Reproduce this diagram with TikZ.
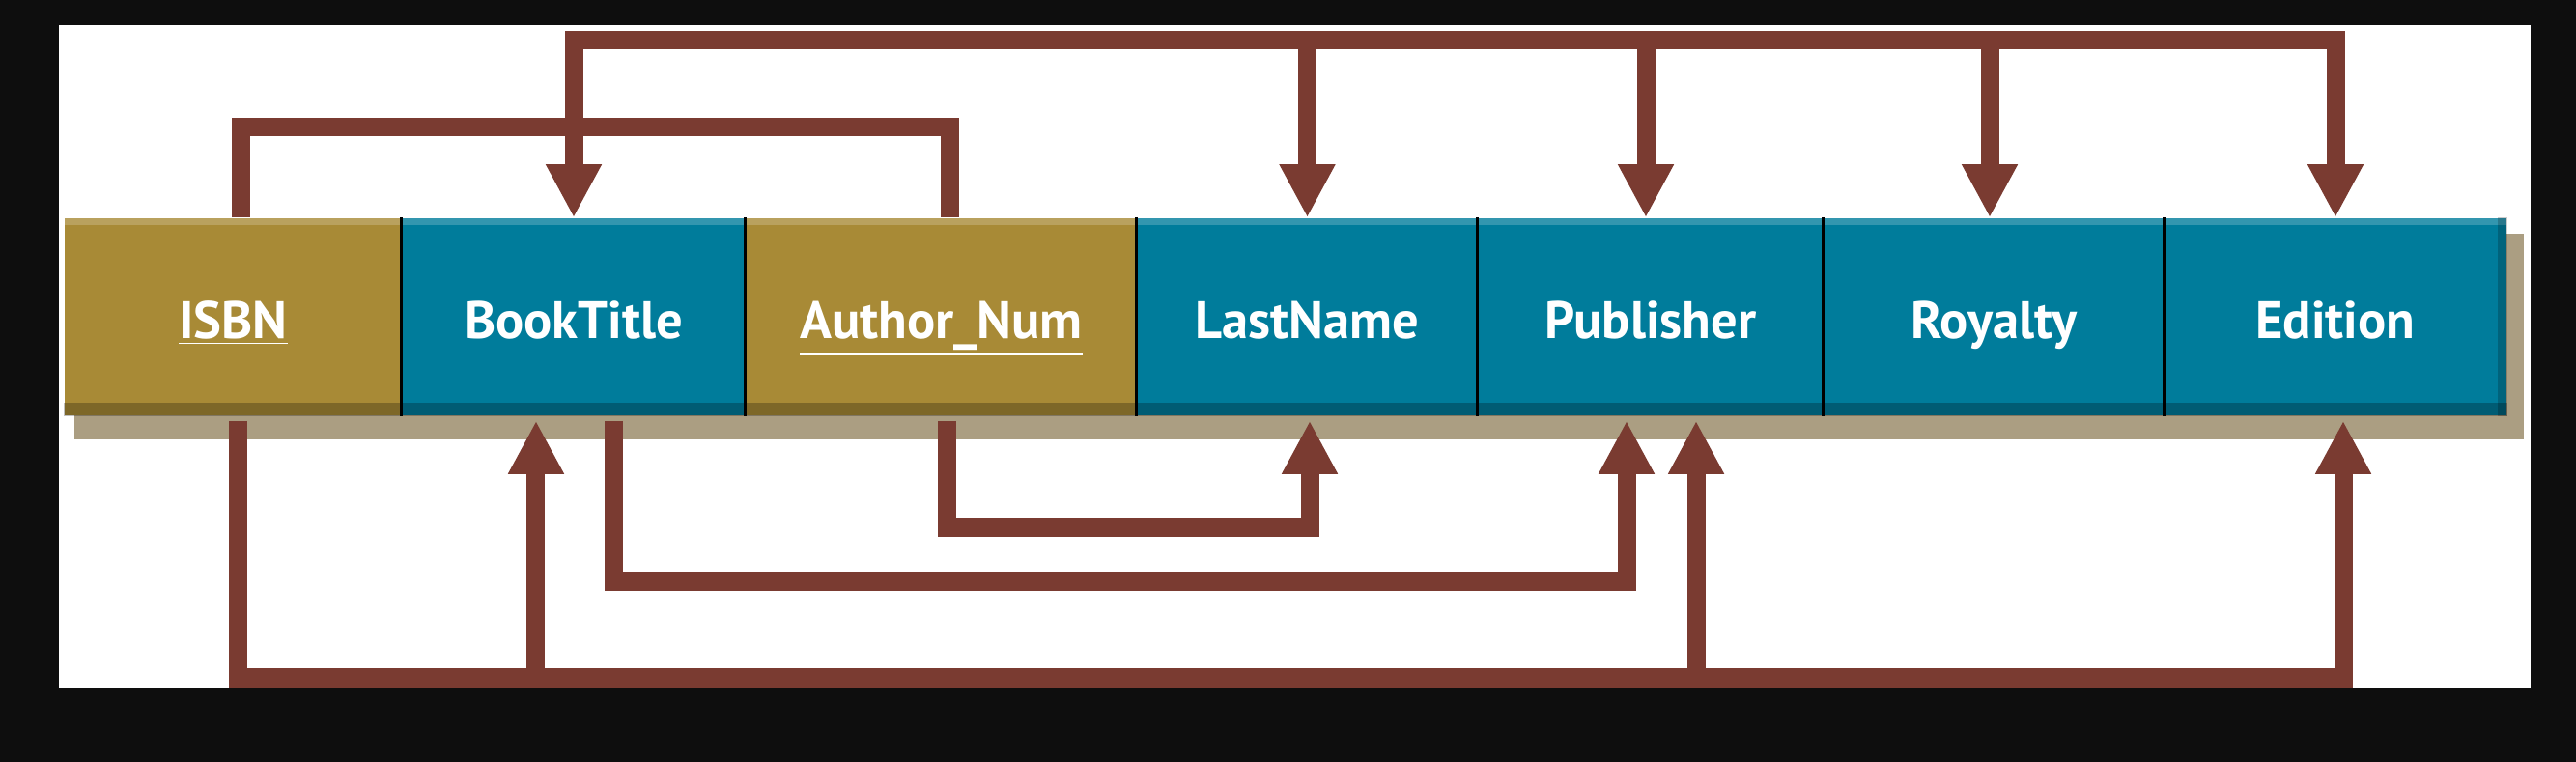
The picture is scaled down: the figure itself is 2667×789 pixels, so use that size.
\documentclass[tikz,border=0pt]{standalone}
\usepackage{fontspec}
\setmainfont{PT Sans}
\usetikzlibrary{arrows.meta}
\definecolor{keygold}{HTML}{A88A36}
\definecolor{fieldblue}{HTML}{007C9B}
\definecolor{depbrown}{HTML}{7A3B31}
\definecolor{shadowtan}{HTML}{AB9E82}
\definecolor{frameblack}{HTML}{0E0E0E}
\begin{document}
\begin{tikzpicture}[x=0.01cm,y=-0.01cm,
    field/.style={minimum height=2.04cm,inner sep=0pt,text=white,
      text height=0.55cm,text depth=0.11cm,
      font=\fontsize{15.5}{18}\selectfont\bfseries},
    keyfield/.style={field,fill=keygold},
    plainfield/.style={field,fill=fieldblue},
    dep/.style={draw=depbrown,line width=0.19cm},
    deparrow/.style={dep,-{Triangle[width=0.54cm,length=0.55cm]}},
    deparrows/.style={dep,{Triangle[width=0.54cm,length=0.55cm]}-{Triangle[width=0.54cm,length=0.55cm]}}]
  \fill[frameblack] (0,0) rectangle (2667,789);
  \useasboundingbox (0,0) rectangle (2667,789);
  \fill[white] (61,26) rectangle (2620,712);
  \fill[shadowtan] (77,242) rectangle (2613,455);

  \node[keyfield,minimum width=3.49cm] (ISBN) at (241.5,328) {\underline{ISBN}};
  \node[plainfield,minimum width=3.56cm] (Title) at (594,328) {BookTitle};
  \node[keyfield,minimum width=4.05cm] (Author) at (974.5,328) {\underline{Author\_Num}};
  \node[plainfield,minimum width=3.53cm] (Last) at (1353.5,328) {LastName};
  \node[plainfield,minimum width=3.58cm] (Pub) at (1709,328) {Publisher};
  \node[plainfield,minimum width=3.53cm] (Roy) at (2064.5,328) {Royalty};
  \node[plainfield,minimum width=3.54cm] (Ed) at (2418,328) {Edition};

  % bevel of the record
  \fill[white,opacity=.2] (ISBN.north west) rectangle ([yshift=-0.08cm]Ed.north east);
  \fill[black,opacity=.25] ([yshift=0.14cm]ISBN.south west) rectangle (Ed.south east);
  \fill[black,opacity=.2] ([xshift=-0.1cm]Ed.north east) rectangle (Ed.south east);
  \foreach \f in {Title,Author,Last,Pub,Roy,Ed}
    \draw[black,line width=0.03cm] (\f.north west) -- (\f.south west);

  \coordinate (bus) at (0,42);
  \coordinate (keyline) at (0,132);
  \coordinate (low1) at (0,546);
  \coordinate (low2) at (0,602);
  \coordinate (low3) at (0,702);

  % composite key
  \draw[dep] ([xshift=0.075cm]ISBN.north) -- ([xshift=0.075cm]ISBN.north |- keyline)
    -| ([xshift=0.085cm]Author.north);
  \draw[deparrows] (Title.north) -- (Title.north |- bus) -| (Ed.north);
  \foreach \f/\s in {Last/0,Pub/-0.05,Roy/-0.045}
    \draw[deparrow] ([xshift=\s cm]\f.north |- bus) -- ([xshift=\s cm]\f.north);

  % partial dependencies
  \draw[deparrow] ([xshift=0.055cm,yshift=-0.05cm]Author.south) -- ([xshift=0.055cm]Author.south |- low1)
    -| ([xshift=0.025cm,yshift=-0.05cm]Last.south);
  \draw[deparrow] ([xshift=0.41cm,yshift=-0.05cm]Title.south) -- ([xshift=0.41cm]Title.south |- low2)
    -| ([xshift=-0.25cm,yshift=-0.05cm]Pub.south);
  \draw[deparrow] ([xshift=0.045cm,yshift=-0.05cm]ISBN.south) -- ([xshift=0.045cm]ISBN.south |- low3)
    -| ([xshift=0.08cm,yshift=-0.05cm]Ed.south);
  \draw[deparrow] ([xshift=-0.39cm]Title.south |- low3) -- ([xshift=-0.39cm,yshift=-0.05cm]Title.south);
  \draw[deparrow] ([xshift=0.47cm]Pub.south |- low3) -- ([xshift=0.47cm,yshift=-0.05cm]Pub.south);
\end{tikzpicture}
\end{document}
